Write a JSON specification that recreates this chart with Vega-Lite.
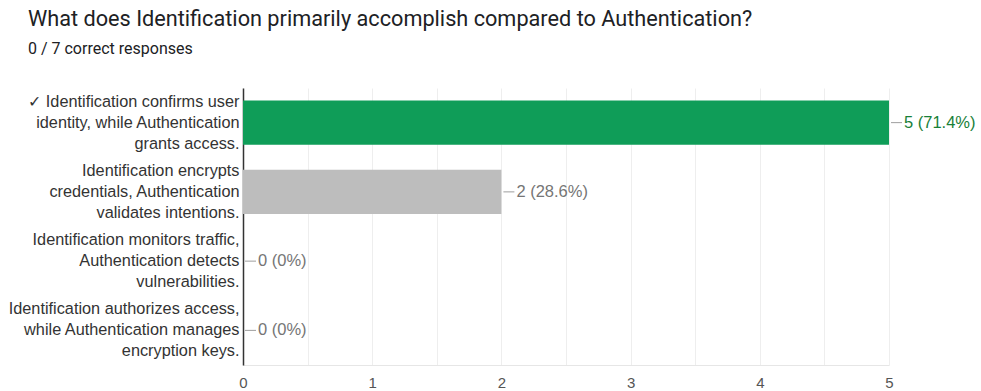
{
  "$schema": "https://vega.github.io/schema/vega-lite/v6.json",
  "width": 646,
  "height": 277,
  "autosize": {"type": "none"},
  "padding": {"left": 243, "top": 88, "right": 92, "bottom": 26},
  "background": "white",
  "title": {
    "text": "What does Identification primarily accomplish compared to Authentication?",
    "subtitle": "0 / 7 correct responses",
    "anchor": "start",
    "frame": "group",
    "orient": "top",
    "dx": -215,
    "offset": 31,
    "font": "Roboto",
    "fontSize": 21.7,
    "fontWeight": "normal",
    "color": "#202124",
    "subtitleFont": "Roboto",
    "subtitleFontSize": 16,
    "subtitleColor": "#202124",
    "subtitlePadding": 10
  },
  "config": {
    "view": {"stroke": null},
    "font": "Liberation Sans"
  },
  "data": {
    "values": [
      {"option": "✓ Identification confirms user|identity, while Authentication|grants access.", "count": 5, "label": "5 (71.4%)", "status": "correct"},
      {"option": "Identification encrypts|credentials, Authentication|validates intentions.", "count": 2, "label": "2 (28.6%)", "status": "other"},
      {"option": "Identification monitors traffic,|Authentication detects|vulnerabilities.", "count": 0, "label": "0 (0%)", "status": "other"},
      {"option": "Identification authorizes access,|while Authentication manages|encryption keys.", "count": 0, "label": "0 (0%)", "status": "other"}
    ]
  },
  "encoding": {
    "y": {
      "field": "option",
      "type": "nominal",
      "sort": null,
      "title": null,
      "scale": {"paddingInner": 0.36, "paddingOuter": 0.18},
      "axis": {
        "labelExpr": "split(datum.value, '|')",
        "labelFontSize": 16.3,
        "labelColor": "#333333",
        "labelLineHeight": 21,
        "labelOffset": -21,
        "labelPadding": 4,
        "labelLimit": 400,
        "ticks": false,
        "domainColor": "#333333",
        "domainWidth": 1.5,
        "grid": false
      }
    }
  },
  "layer": [
    {
      "mark": {"type": "bar"},
      "encoding": {
        "x": {
          "field": "count",
          "type": "quantitative",
          "scale": {"domain": [0, 5], "nice": false},
          "title": null,
          "axis": {
            "values": [0, 0.5, 1, 1.5, 2, 2.5, 3, 3.5, 4, 4.5, 5],
            "labelExpr": "datum.value % 1 == 0 ? format(datum.value, 'd') : ''",
            "labelFontSize": 15,
            "labelColor": "#555555",
            "labelPadding": 10,
            "ticks": false,
            "domainColor": "#e6e6e6",
            "gridColor": "#eeeeee",
            "labelFlush": false
          }
        },
        "color": {
          "field": "status",
          "type": "nominal",
          "scale": {"domain": ["correct", "other"], "range": ["#0f9d58", "#bdbdbd"]},
          "legend": null
        }
      }
    },
    {
      "mark": {"type": "rule", "color": "#9e9e9e", "strokeWidth": 1, "xOffset": 2, "x2Offset": 13},
      "encoding": {
        "x": {"field": "count", "type": "quantitative"},
        "x2": {"field": "count"}
      }
    },
    {
      "mark": {"type": "text", "align": "left", "baseline": "middle", "dx": 15, "fontSize": 16.5},
      "encoding": {
        "x": {"field": "count", "type": "quantitative"},
        "text": {"field": "label"},
        "color": {
          "field": "status",
          "type": "nominal",
          "scale": {"domain": ["correct", "other"], "range": ["#188038", "#757575"]},
          "legend": null
        }
      }
    }
  ],
  "resolve": {"scale": {"color": "independent"}}
}
